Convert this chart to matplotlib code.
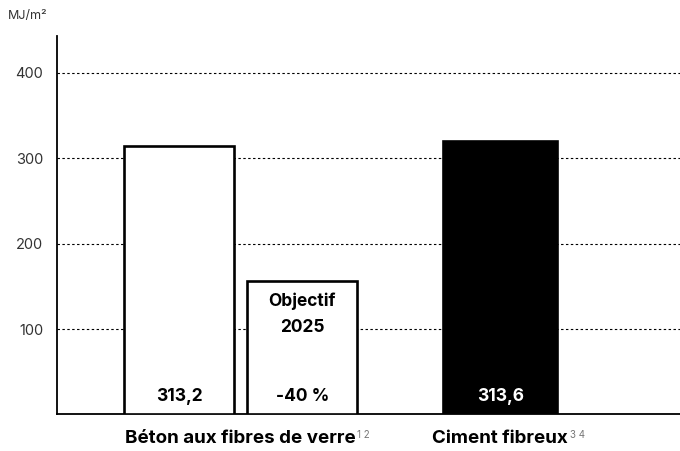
import matplotlib
matplotlib.use("Agg")
import matplotlib.pyplot as plt

# values
bar_heights = [314, 156, 320]
bar_fills   = ["white", "white", "black"]
value_labels = ["313,2", "-40 %", "313,6"]
value_colors = ["black", "black", "white"]
categories  = ["Béton aux fibres de verre", "Ciment fibreux"]
cat_notes   = ["1 2", "3 4"]
y_ticks     = [100, 200, 300, 400]
unit_label  = "MJ/m²"
goal_label  = "Objectif\n2025"

plt.rcParams["font.family"] = ["Inter", "DejaVu Sans"]

fig = plt.figure(figsize=(6.8, 4.51), dpi=100)
ax = fig.add_axes([0.0838, 0.081, 0.9162, 0.839])

# layout in bar-width units (bar ~110 px)
positions = [1.11, 2.23, 4.03]
widths    = [1.0, 1.0, 1.04]

ax.set_xlim(0, 623 / 110)
ax.set_ylim(0, 443)

for y in y_ticks:
    ax.axhline(y, color="black", lw=0.8, ls=(0, (2.2, 2.2)), zorder=0)

ax.bar(positions, bar_heights, width=widths, color=bar_fills,
       edgecolor="black", linewidth=1.9, zorder=3)

for x, lab, col in zip(positions, value_labels, value_colors):
    ax.text(x, 21, lab, ha="center", va="center", fontsize=12.5,
            fontweight="bold", color=col, zorder=4)

ax.text(positions[1], 117, goal_label, ha="center", va="center",
        fontsize=12.5, fontweight="bold", linespacing=1.7, zorder=4)

for s in ["top", "right"]:
    ax.spines[s].set_visible(False)
ax.spines["left"].set_linewidth(1.3)
ax.spines["bottom"].set_linewidth(1.3)

ax.set_xticks([])
ax.set_yticks(y_ticks)
ax.set_yticklabels([str(v) for v in y_ticks], fontsize=10.5, color="#333333")
ax.tick_params(axis="y", length=0, pad=10)

fig.text(0.012, 0.965, unit_label, fontsize=9, color="#333333",
         ha="left", va="center")

# category labels under the axis
cat_x = [(positions[0] + positions[1]) / 2, positions[2]]
for x, name, note in zip(cat_x, categories, cat_notes):
    t = ax.annotate(name, xy=(x, 0), xycoords="data", xytext=(0, -17),
                    textcoords="offset points", ha="center", va="center",
                    fontsize=13.5, fontweight="bold")
    fig.canvas.draw()
    bb = t.get_window_extent()
    fig.text(bb.x1 / fig.bbox.width + 0.002, bb.y1 / fig.bbox.height - 0.002,
             note, fontsize=7, color="#777777", ha="left", va="top")

fig.savefig("out.png", dpi=100)
